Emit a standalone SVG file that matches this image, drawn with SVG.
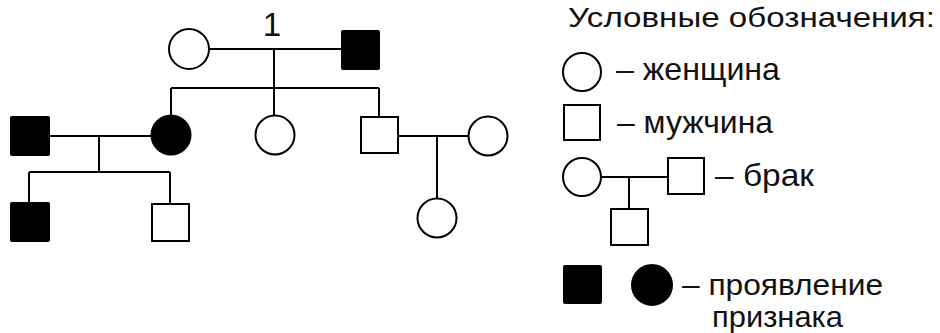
<svg xmlns="http://www.w3.org/2000/svg" width="940" height="333" viewBox="0 0 940 333">
  <style>
    .ln { stroke: #000; stroke-width: 2; fill: none; }
    .open { fill: #fff; stroke: #000; stroke-width: 2; }
    .aff { fill: #000; stroke: #000; stroke-width: 2; }
    .txt { font-family: "Liberation Sans", Arial, sans-serif; fill: #111; }
    .lg { font-size: 32px; }
    .lg2 { font-size: 29px; }
  </style>
  <rect width="940" height="333" fill="#fff"/>

  <!-- connectors -->
  <g id="connectors" class="ln">
    <!-- generation I marriage and sibship -->
    <line x1="209" y1="49" x2="341" y2="49"/>
    <line x1="274" y1="49" x2="274" y2="88"/>
    <line x1="171" y1="88" x2="379" y2="88"/>
    <line x1="171" y1="88" x2="171" y2="115"/>
    <line x1="274" y1="88" x2="274" y2="115"/>
    <line x1="379" y1="88" x2="379" y2="117"/>
    <!-- left marriage -->
    <line x1="49" y1="136" x2="151" y2="136"/>
    <line x1="99" y1="136" x2="99" y2="172"/>
    <line x1="29" y1="172" x2="170" y2="172"/>
    <line x1="29" y1="172" x2="29" y2="203"/>
    <line x1="170" y1="172" x2="170" y2="204"/>
    <!-- right marriage -->
    <line x1="398" y1="136" x2="468" y2="136"/>
    <line x1="437" y1="136" x2="437" y2="198"/>
  </g>

  <text class="txt" x="272" y="36" font-size="33" text-anchor="middle">1</text>

  <!-- generation I -->
  <g id="n1-mother"><circle class="open" cx="189" cy="49" r="20"/></g>
  <g id="n1-father"><rect class="aff" x="342" y="31" width="37" height="38" rx="1"/></g>

  <!-- generation II -->
  <g id="n2-husband"><rect class="aff" x="11" y="117" width="38" height="38" rx="1"/></g>
  <g id="n2-daughter-aff"><circle class="aff" cx="171" cy="135" r="19.5"/></g>
  <g id="n2-daughter"><circle class="open" cx="275" cy="135" r="19.5"/></g>
  <g id="n2-son"><rect class="open" x="361" y="117" width="37" height="36"/></g>
  <g id="n2-wife"><circle class="open" cx="488" cy="136" r="19.5"/></g>

  <!-- generation III -->
  <g id="n3-son-aff"><rect class="aff" x="11" y="203" width="38" height="38" rx="1"/></g>
  <g id="n3-son"><rect class="open" x="152" y="204" width="37" height="37"/></g>
  <g id="n3-daughter"><circle class="open" cx="437" cy="218" r="19.5"/></g>

  <!-- legend -->
  <g id="legend">
    <text class="txt" x="568" y="27" font-size="28" textLength="367" lengthAdjust="spacingAndGlyphs">Условные обозначения:</text>

    <g id="legend-female">
      <circle class="open" cx="582" cy="72" r="19"/>
      <text class="txt lg" x="616" y="80" textLength="164" lengthAdjust="spacingAndGlyphs">– женщина</text>
    </g>

    <g id="legend-male">
      <rect class="open" x="564" y="105" width="36" height="35"/>
      <text class="txt lg" x="617" y="133" textLength="156" lengthAdjust="spacingAndGlyphs">– мужчина</text>
    </g>

    <g id="legend-marriage">
      <line class="ln" x1="601" y1="177" x2="668" y2="177"/>
      <line class="ln" x1="629" y1="177" x2="629" y2="209"/>
      <circle class="open" cx="582" cy="177" r="19"/>
      <rect class="open" x="668" y="158" width="36" height="36"/>
      <rect class="open" x="611" y="209" width="37" height="36"/>
      <text class="txt lg" x="715" y="186" textLength="99" lengthAdjust="spacingAndGlyphs">– брак</text>
    </g>

    <g id="legend-affected">
      <rect class="aff" x="564" y="266" width="37" height="37" rx="1"/>
      <circle class="aff" cx="652" cy="285" r="20"/>
      <text class="txt lg2" x="682" y="295" textLength="201" lengthAdjust="spacingAndGlyphs">– проявление</text>
      <text class="txt lg2" x="712" y="327" textLength="131" lengthAdjust="spacingAndGlyphs">признака</text>
    </g>
  </g>
</svg>
